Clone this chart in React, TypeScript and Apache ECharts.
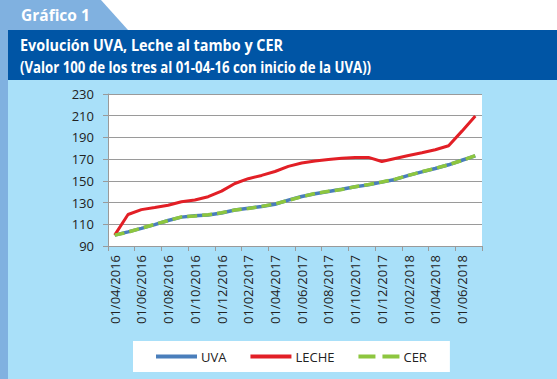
import React, { useEffect, useRef } from "react";
import * as echarts from "echarts";

const categories = [
  "01/04/2016", "01/05/2016", "01/06/2016", "01/07/2016", "01/08/2016", "01/09/2016",
  "01/10/2016", "01/11/2016", "01/12/2016", "01/01/2017", "01/02/2017", "01/03/2017",
  "01/04/2017", "01/05/2017", "01/06/2017", "01/07/2017", "01/08/2017", "01/09/2017",
  "01/10/2017", "01/11/2017", "01/12/2017", "01/01/2018", "01/02/2018", "01/03/2018",
  "01/04/2018", "01/05/2018", "01/06/2018", "01/07/2018",
];

const uva = [
  100, 103, 106.2, 109.7, 113.5, 116.6, 117.9, 118.6, 120.4, 123.1, 124.8, 126.3,
  128.5, 132.2, 135.6, 138.2, 140.2, 142.3, 144.5, 146.3, 148.8, 151.3, 155.1, 158.3,
  161.4, 164.8, 169, 173,
];

const leche = [
  100, 119, 123.5, 125.5, 127.6, 130.8, 132.4, 135.4, 140.5, 147.6, 152, 155,
  158.6, 163.3, 166.4, 168.3, 169.7, 170.8, 171.4, 171.6, 167.8, 170.6, 173.4, 175.9,
  178.6, 182.3, 195.8, 209.7,
];

const cer = [
  100, 102.8, 106.4, 109.9, 113.4, 116.8, 117.7, 118.8, 120.6, 123.2, 124.6, 126.5,
  128.7, 132, 135.4, 138.4, 140.4, 142.1, 144.6, 146.6, 148.9, 151.6, 155, 158.5,
  161.5, 164.9, 168.8, 173.3,
];

const seriesNames = ["UVA", "LECHE", "CER"];

const yMin = 90;
const yMax = 230;
const yStep = 20;

const titleTab = "Gráfico 1";
const titleLine1 = "Evolución UVA, Leche al tambo y CER";
const titleLine2 = "(Valor 100 de los tres al 01-04-16 con inicio de la UVA))";

const FONT = '"Open Sans", "Noto Sans", sans-serif';

export default function App() {
  const ref = useRef<HTMLDivElement>(null);

  useEffect(() => {
    if (!ref.current) return;
    const chart = echarts.init(ref.current, undefined, { renderer: "svg" });
    const grey = "#9a9a9a";
    const solidIcon = "path://M0,0H41V4H0Z";
    const dashedIcon = "path://M0,0H17V4H0ZM24,0H41V4H24Z";
    chart.setOption({
      animation: false,
      backgroundColor: "#a9e0f9",
      textStyle: { fontFamily: FONT },
      graphic: [
        { type: "rect", shape: { x: 0, y: 0, width: 557, height: 30 }, style: { fill: "#ffffff" }, z: 0 },
        {
          type: "polygon",
          shape: { points: [[0, 0], [101, 0], [128, 30], [0, 30]] },
          style: { fill: "#80b1e0" },
          z: 1,
        },
        { type: "rect", shape: { x: 0, y: 0, width: 8, height: 379 }, style: { fill: "#80b1e0" }, z: 1 },
        { type: "rect", shape: { x: 8, y: 30, width: 549, height: 50 }, style: { fill: "#0055a5" }, z: 1 },
        {
          type: "text",
          x: 21,
          y: 15,
          scaleX: 0.97,
          style: {
            text: titleTab,
            fill: "#ffffff",
            fontSize: 16,
            fontWeight: "bold",
            fontFamily: FONT,
            verticalAlign: "middle",
          },
          z: 2,
        },
        {
          type: "text",
          x: 20,
          y: 45,
          scaleX: 0.9,
          style: {
            text: titleLine1,
            fill: "#ffffff",
            fontSize: 16,
            fontWeight: "bold",
            fontFamily: FONT,
            verticalAlign: "middle",
          },
          z: 2,
        },
        {
          type: "text",
          x: 20,
          y: 66,
          scaleX: 0.827,
          style: {
            text: titleLine2,
            fill: "#ffffff",
            fontSize: 16,
            fontWeight: "bold",
            fontFamily: FONT,
            verticalAlign: "middle",
          },
          z: 2,
        },
      ],
      grid: {
        left: 108,
        right: 75,
        top: 94,
        bottom: 133,
        show: true,
        backgroundColor: "#ffffff",
        borderWidth: 0,
        containLabel: false,
      },
      legend: {
        left: 133,
        top: 341,
        padding: [7, 23, 7, 23],
        itemGap: 24,
        itemWidth: 41,
        itemHeight: 4,
        backgroundColor: "#ffffff",
        textStyle: { fontSize: 13, color: "#222", fontFamily: FONT, lineHeight: 17, padding: [0, 0, 0, -1] },
        data: [
          { name: seriesNames[0], icon: solidIcon },
          { name: seriesNames[1], icon: solidIcon },
          { name: seriesNames[2], icon: dashedIcon },
        ],
      },
      xAxis: {
        type: "category",
        data: categories,
        boundaryGap: true,
        axisLine: { show: true, lineStyle: { color: grey, width: 1 } },
        axisTick: { show: true, interval: 1, length: 5, lineStyle: { color: grey } },
        axisLabel: {
          interval: 1,
          rotate: 90,
          margin: 9,
          fontSize: 13,
          color: "#222",
          fontFamily: FONT,
        },
        splitLine: { show: false },
      },
      yAxis: {
        type: "value",
        min: yMin,
        max: yMax,
        interval: yStep,
        axisLine: { show: true, lineStyle: { color: grey, width: 1 } },
        axisTick: { show: true, length: 5, lineStyle: { color: grey } },
        axisLabel: { margin: 14, fontSize: 13, color: "#222", fontFamily: FONT },
        splitLine: { show: true, lineStyle: { color: grey, width: 1 } },
      },
      series: [
        {
          name: seriesNames[0],
          type: "line",
          data: uva,
          symbol: "none",
          lineStyle: { color: "#4a7ebb", width: 3.5 },
          itemStyle: { color: "#4a7ebb" },
          z: 2,
        },
        {
          name: seriesNames[1],
          type: "line",
          data: leche,
          symbol: "none",
          lineStyle: { color: "#e21f26", width: 3 },
          itemStyle: { color: "#e21f26" },
          z: 3,
        },
        {
          name: seriesNames[2],
          type: "line",
          data: cer,
          symbol: "none",
          lineStyle: { color: "#8dc63f", width: 3.5, type: [10, 5] },
          itemStyle: { color: "#8dc63f" },
          z: 4,
        },
      ],
    });
    return () => chart.dispose();
  }, []);

  return (
    <div
      ref={ref}
      style={{ position: "absolute", left: 0, top: 0, width: 557, height: 379 }}
    />
  );
}
